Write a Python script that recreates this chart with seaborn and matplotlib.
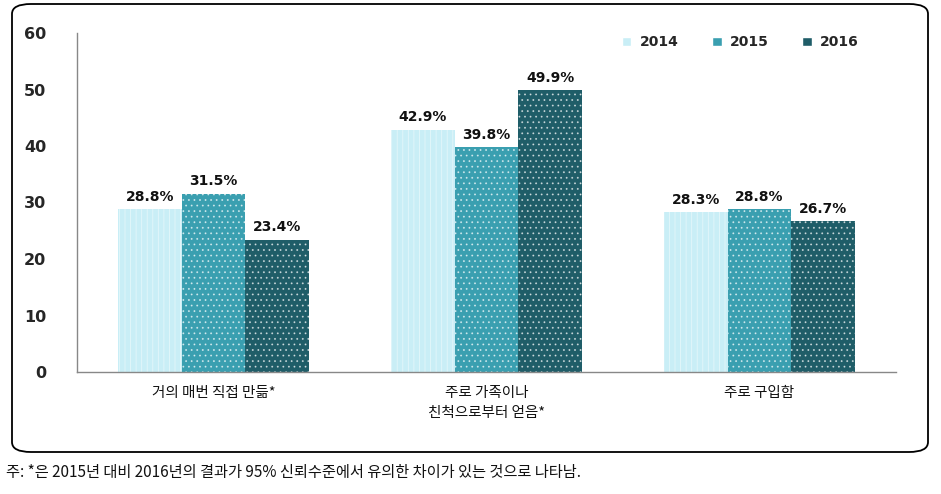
import matplotlib.pyplot as plt
import numpy as np
import pandas as pd
import seaborn as sns
from matplotlib.patches import FancyBboxPatch

categories = ["거의 매번 직접 만듦*", "주로 가족이나\n친척으로부터 얻음*", "주로 구입함"]
years = ["2014", "2015", "2016"]
values_2014 = [28.8, 42.9, 28.3]
values_2015 = [31.5, 39.8, 28.8]
values_2016 = [23.4, 49.9, 26.7]
colors = ["#c9eef6", "#3a9fb0", "#1f5d68"]
yticks = [0, 10, 20, 30, 40, 50, 60]

df = pd.DataFrame({
    "category": categories * 3,
    "year": [y for y in years for _ in categories],
    "value": values_2014 + values_2015 + values_2016,
})

sns.set_style("white")
plt.rcParams["font.family"] = ["Noto Sans CJK KR", "DejaVu Sans"]
plt.rcParams["hatch.linewidth"] = 0.6

fig = plt.figure(figsize=(9.41, 4.94), dpi=100)
ax = fig.add_axes([77 / 941, 1 - 372 / 494, (896 - 77) / 941, (372 - 33) / 494])

sns.barplot(data=df, x="category", y="value", hue="year", palette=colors,
            width=0.7, gap=0, ax=ax, saturation=1, legend=True)

# fine dotted fill on each bar
for i, cont in enumerate(ax.containers):
    for bar in cont:
        bar.set_hatch("..." if i > 0 else "|||")
        bar.set_edgecolor((1, 1, 1, 0.6) if i > 0 else (1, 1, 1, 0.5))
        bar.set_linewidth(0)
    labels = [f"{v:.1f}%" for v in cont.datavalues]
    ax.bar_label(cont, labels=labels, padding=4, fontsize=10, fontweight="bold",
                 color="#111111", family="DejaVu Sans")

ax.set_ylim(0, 60)
ax.set_yticks(yticks)
ax.set_yticklabels([str(t) for t in yticks], fontsize=11.5, fontweight="bold",
                   family="DejaVu Sans")
ax.tick_params(axis="y", length=0, pad=22)
ax.tick_params(axis="x", length=0, pad=10, labelsize=10.5, labelcolor="#111111")
for lbl in ax.get_xticklabels():
    lbl.set_linespacing(1.6)
    lbl.set_fontweight("medium")
ax.set_xlabel("")
ax.set_ylabel("")
ax.set_xlim(-0.5, 2.5)
for s in ["top", "right"]:
    ax.spines[s].set_visible(False)
for s in ["left", "bottom"]:
    ax.spines[s].set_color("#888888")
    ax.spines[s].set_linewidth(1)

leg = ax.legend(loc="upper right", bbox_to_anchor=(0.97, 1.03), ncol=3,
                frameon=False, fontsize=10, handlelength=0.7, handleheight=0.7,
                columnspacing=2.4, handletextpad=0.6)
for t in leg.get_texts():
    t.set_fontweight("bold")
    t.set_family("DejaVu Sans")

box = FancyBboxPatch((12 / 941, 1 - 452 / 494), (928 - 12) / 941, (452 - 4) / 494,
                     boxstyle="round,pad=0,rounding_size=0.02",
                     transform=fig.transFigure, fill=False,
                     edgecolor="black", linewidth=1.3)
fig.patches.append(box)

fig.text(6 / 941, 1 - 472 / 494,
         "주: *은 2015년 대비 2016년의 결과가 95% 신뢰수준에서 유의한 차이가 있는 것으로 나타남.",
         fontsize=11, va="center", ha="left", color="#111111")

fig.savefig("out.png", dpi=100)
